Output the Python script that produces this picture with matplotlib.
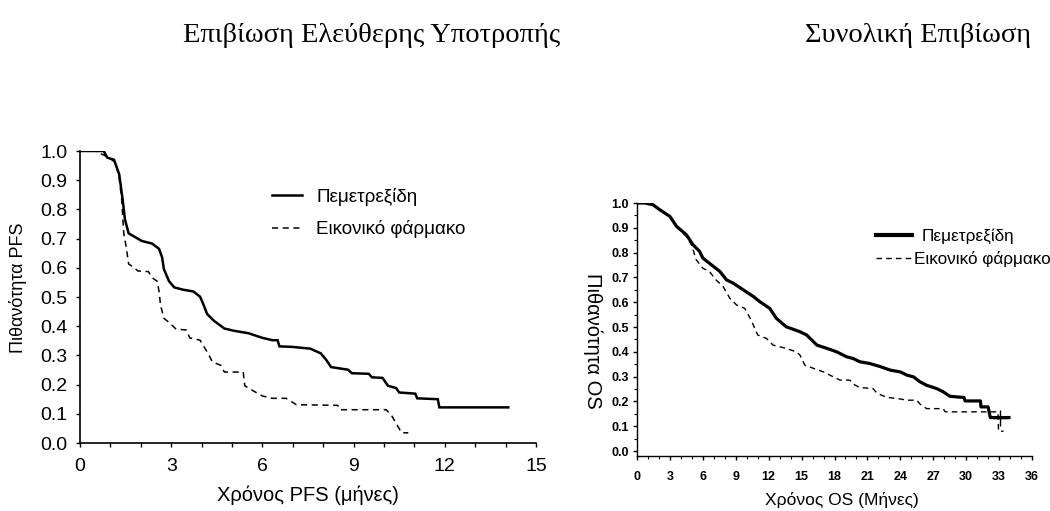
import numpy as np
import matplotlib
matplotlib.use("Agg")
import matplotlib.pyplot as plt
from matplotlib.lines import Line2D
from matplotlib.ticker import MultipleLocator, FormatStrFormatter

# ---------------- data ----------------
pfs_pem_t = [0, 0.78, 0.9, 1.12, 1.29, 1.40, 1.48, 1.6, 1.8, 2.03, 2.37, 2.6, 2.7, 2.76, 2.93,
             3.1, 3.39, 3.73, 3.95, 4.07, 4.18, 4.4, 4.75, 5.08, 5.54, 6.0, 6.33, 6.5, 6.56,
             7.0, 7.58, 7.92, 8.09, 8.26, 8.82, 8.94, 9.5, 9.6, 9.95, 10.13, 10.4, 10.5,
             11.03, 11.09, 11.77, 11.82, 14.09]
pfs_pem_s = [1.0, 1.0, 0.977, 0.97, 0.92, 0.836, 0.765, 0.718, 0.706, 0.692, 0.683, 0.665, 0.636,
             0.595, 0.554, 0.533, 0.525, 0.519, 0.501, 0.472, 0.442, 0.419, 0.392, 0.384, 0.376,
             0.36, 0.352, 0.352, 0.331, 0.329, 0.323, 0.307, 0.286, 0.26, 0.251, 0.239, 0.237,
             0.225, 0.223, 0.196, 0.188, 0.173, 0.169, 0.153, 0.15, 0.122, 0.122]

pfs_pla_t = [0, 0.5, 0.78, 1.0, 1.18, 1.29, 1.37, 1.44, 1.52, 1.6, 1.74, 1.91, 2.25, 2.37, 2.54,
             2.6, 2.65, 2.76, 2.93, 3.16, 3.5, 3.61, 3.95, 4.07, 4.24, 4.35, 4.63, 4.75, 5.37,
             5.42, 5.71, 6.0, 6.33, 6.78, 7.12, 8.48, 8.54, 10.07, 10.24, 10.4, 10.58, 10.8]
pfs_pla_s = [1.0, 1.0, 0.986, 0.974, 0.959, 0.906, 0.836, 0.718, 0.671, 0.613, 0.603, 0.589, 0.587,
             0.566, 0.554, 0.519, 0.472, 0.427, 0.413, 0.39, 0.387, 0.36, 0.352, 0.331, 0.302,
             0.278, 0.266, 0.243, 0.243, 0.196, 0.178, 0.161, 0.153, 0.153, 0.131, 0.129, 0.114,
             0.114, 0.096, 0.067, 0.035, 0.035]

os_pem_t = [0, 0.7, 1.46, 2.07, 3.0, 3.6, 4.5, 5.1, 5.7, 6.0, 6.6, 7.55, 8.16, 8.76, 9.68, 10.6,
            11.2, 12.1, 12.7, 13.6, 14.85, 15.46, 16.4, 17.3, 18.2, 19.1, 19.7, 20.3, 21.2, 22.2,
            23.1, 24.0, 24.6, 25.2, 25.8, 26.4, 27.3, 27.9, 28.5, 29.2, 29.8, 29.9, 31.3, 31.35,
            32.0, 32.2, 33.9]
os_pem_s = [1.0, 1.0, 0.993, 0.973, 0.946, 0.906, 0.872, 0.832, 0.805, 0.778, 0.757, 0.724, 0.69,
            0.677, 0.65, 0.623, 0.602, 0.575, 0.535, 0.501, 0.481, 0.468, 0.427, 0.414, 0.4, 0.38,
            0.373, 0.36, 0.353, 0.34, 0.326, 0.319, 0.306, 0.299, 0.279, 0.265, 0.252, 0.239,
            0.221, 0.218, 0.216, 0.202, 0.202, 0.178, 0.178, 0.135, 0.135]

os_pla_t = [0, 0.7, 1.46, 2.07, 3.0, 3.6, 4.5, 4.96, 5.4, 6.0, 6.6, 7.2, 7.85, 8.46, 9.07, 9.83,
            10.4, 11.0, 11.8, 12.4, 13.6, 14.5, 14.85, 15.3, 16.1, 17.0, 17.9, 18.5, 19.4, 19.7,
            20.3, 21.5, 21.9, 22.8, 23.7, 24.6, 25.5, 25.8, 26.4, 27.9, 28.1, 32.9, 32.95, 33.4]
os_pla_s = [1.0, 1.0, 0.993, 0.973, 0.946, 0.906, 0.865, 0.832, 0.771, 0.737, 0.724, 0.69, 0.663,
            0.616, 0.589, 0.575, 0.528, 0.468, 0.454, 0.427, 0.414, 0.4, 0.387, 0.346, 0.333,
            0.319, 0.299, 0.286, 0.286, 0.27, 0.256, 0.252, 0.232, 0.216, 0.212, 0.205, 0.205,
            0.189, 0.171, 0.171, 0.158, 0.158, 0.08, 0.08]

os_censor_t = [33.05]

label_pem = "Πεμετρεξίδη"
label_pla = "Εικονικό φάρμακο"
title_pfs = "Επιβίωση Ελεύθερης Υποτροπής"
title_os = "Συνολική Επιβίωση"
xlabel_pfs = "Χρόνος PFS (μήνες)"
ylabel_pfs = "Πιθανότητα PFS"
xlabel_os = "Χρόνος OS (Μήνες)"
ylabel_os = "Πιθανότητα OS"

# ---------------- figure ----------------
plt.rcParams['font.family'] = ['Liberation Sans', 'DejaVu Sans']
W, H = 1050, 511
fig = plt.figure(figsize=(W / 100, H / 100), dpi=100)

def fbox(x0, x1, ytop, ybot):
    return [x0 / W, 1 - ybot / H, (x1 - x0) / W, (ybot - ytop) / H]

# Left panel: PFS
ax1 = fig.add_axes(fbox(80, 536, 151, 443))
ax1.plot(pfs_pem_t, pfs_pem_s, color='black', lw=1.8, solid_joinstyle='miter')
ax1.plot(pfs_pla_t, pfs_pla_s, color='black', lw=1.1, dashes=(4, 3))
ax1.set_xlim(0, 15)
ax1.set_ylim(0, 1.0)
ax1.xaxis.set_major_locator(MultipleLocator(3))
ax1.xaxis.set_minor_locator(MultipleLocator(1))
ax1.yaxis.set_major_locator(MultipleLocator(0.1))
ax1.yaxis.set_major_formatter(FormatStrFormatter('%.1f'))
for s in ['top', 'right']:
    ax1.spines[s].set_visible(False)
ax1.spines['left'].set_linewidth(1.2)
ax1.spines['bottom'].set_linewidth(1.2)
ax1.tick_params(axis='both', which='major', labelsize=14, length=3, width=1, direction='out', pad=6)
ax1.tick_params(axis='x', which='minor', length=3, width=1, direction='out')
ax1.tick_params(axis='x', which='major', pad=8)
ax1.set_xlabel(xlabel_pfs, fontsize=14.5, labelpad=7)
ax1.set_ylabel(ylabel_pfs, fontsize=13, va='center')
ax1.yaxis.set_label_coords(-0.136, 0.53)
leg1 = ax1.legend(handles=[Line2D([], [], color='black', lw=1.8),
                           Line2D([], [], color='black', lw=1.1, dashes=(4, 3))],
                  labels=[label_pem, label_pla], frameon=False, fontsize=13.6,
                  loc='upper left', bbox_to_anchor=(272 / W, 1 - 188 / H),
                  bbox_transform=fig.transFigure, borderpad=0, borderaxespad=0,
                  handlelength=1.6, handletextpad=0.75, labelspacing=0.75)

# Right panel: OS
ax2 = fig.add_axes(fbox(637, 1032, 203, 456))
ax2.plot(os_pem_t, os_pem_s, color='black', lw=2.3)
ax2.plot(os_pla_t, os_pla_s, color='black', lw=1.0, dashes=(4, 3))
ax2.plot(os_censor_t, np.interp(os_censor_t, os_pem_t, os_pem_s), linestyle='none',
         marker='+', color='black', markersize=11, markeredgewidth=1.0)
ax2.set_xlim(0, 36)
ax2.set_ylim(-0.02, 1.0)
ax2.xaxis.set_major_locator(MultipleLocator(3))
ax2.xaxis.set_minor_locator(MultipleLocator(1))
ax2.yaxis.set_major_locator(MultipleLocator(0.1))
ax2.yaxis.set_minor_locator(MultipleLocator(0.05))
ax2.yaxis.set_major_formatter(FormatStrFormatter('%.1f'))
for s in ['top', 'right']:
    ax2.spines[s].set_visible(False)
ax2.spines['left'].set_linewidth(1.0)
ax2.spines['bottom'].set_linewidth(1.0)
ax2.tick_params(axis='both', which='major', labelsize=9, length=3, width=1, direction='out', pad=3)
ax2.tick_params(axis='both', which='minor', length=2, width=0.8, direction='out')
for lab in ax2.get_xticklabels() + ax2.get_yticklabels():
    lab.set_fontweight('bold')
ax2.tick_params(axis='x', which='major', pad=8)
ax2.set_xlabel(xlabel_os, fontsize=12.5, va='center')
ax2.xaxis.set_label_coords(0.519, -0.175)
ax2.set_ylabel(ylabel_os, fontsize=14.5, rotation=-90, va='center')
ax2.yaxis.set_label_coords(-0.111, 0.455)

leg_os_pem = ax2.legend(handles=[Line2D([], [], color='black', lw=3.0)],
                        labels=[label_pem], frameon=False, fontsize=12.3,
                        loc='center left', bbox_to_anchor=(876 / W, 1 - 236 / H),
                        bbox_transform=fig.transFigure, borderpad=0, borderaxespad=0,
                        handlelength=2.1, handletextpad=0.55)
ax2.add_artist(leg_os_pem)
leg_os_pla = ax2.legend(handles=[Line2D([], [], color='black', lw=1.0, dashes=(4, 3))],
                        labels=[label_pla], frameon=False, fontsize=12.3,
                        loc='center left', bbox_to_anchor=(876 / W, 1 - 259 / H),
                        bbox_transform=fig.transFigure, borderpad=0, borderaxespad=0,
                        handlelength=2.1, handletextpad=0.1)

# Titles
fig.text(372 / W, 1 - 36 / H, title_pfs, ha='center', va='center',
         family=['Liberation Serif', 'DejaVu Serif'], fontsize=20.5)
fig.text(918 / W, 1 - 36 / H, title_os, ha='center', va='center',
         family=['Liberation Serif', 'DejaVu Serif'], fontsize=20.5)

fig.savefig('out.png', dpi=100)
